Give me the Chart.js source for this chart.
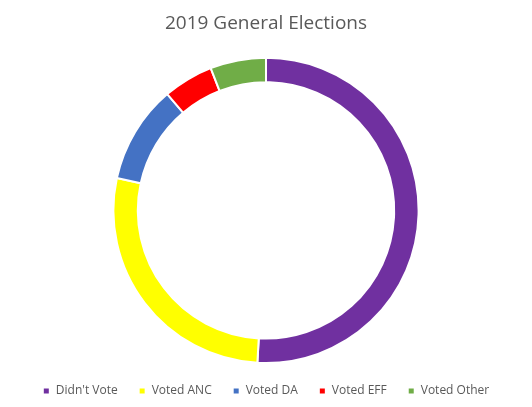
<!DOCTYPE html>
<html><head><meta charset="utf-8">
<script src="https://cdn.jsdelivr.net/npm/chart.js@4"></script>
<style>html,body{margin:0;background:#fff}#wrap{width:532px;height:407px}</style>
</head><body><div id="wrap"><canvas id="c"></canvas></div>
<script>
const labels = ["Didn't Vote", "Voted ANC", "Voted DA", "Voted EFF", "Voted Other"];
const shares = [50.9, 27.5, 10.4, 5.3, 5.9];
const colors = ['#7030a0', '#ffff00', '#4472c4', '#ff0000', '#70ad47'];

new Chart(document.getElementById('c'), {
  type: 'doughnut',
  data: { labels, datasets: [{ data: shares, backgroundColor: colors, borderColor: '#fff', borderWidth: 2 }] },
  options: {
    responsive: true, maintainAspectRatio: false, animation: false,
    cutout: '84%',
    layout: { padding: { top: 0, bottom: 0 } },
    plugins: {
      title: { display: true, text: '2019 General Elections', color: '#595959',
        font: { family: 'Open Sans', size: 19, weight: 'normal' }, padding: { top: 12, bottom: 22 } },
      legend: { position: 'bottom',
        labels: { boxWidth: 7, boxHeight: 7, color: '#595959', padding: 21,
          font: { family: 'Open Sans', size: 12 } } },
      tooltip: { enabled: false }
    }
  }
});
</script></body></html>
